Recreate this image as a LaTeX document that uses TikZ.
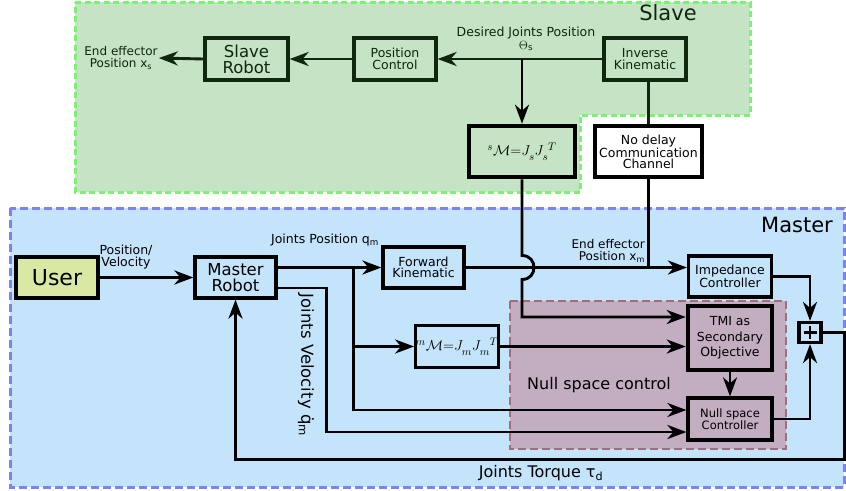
\documentclass[tikz,border=0pt]{standalone}
\usepackage{fontspec}
\setmainfont{DejaVu Sans}
\usetikzlibrary{arrows.meta,calc}
\definecolor{gfill}{HTML}{C5E3C5}
\definecolor{gborder}{HTML}{7CF272}
\definecolor{bfill}{HTML}{C3E4FB}
\definecolor{bborder}{HTML}{8080F5}
\definecolor{nfill}{HTML}{C3ADC1}
\definecolor{nborder}{HTML}{A66A78}
\definecolor{ufill}{HTML}{D8E9A3}
\definecolor{sdark}{HTML}{0F260F}
\newcommand{\myfs}[2]{\fontsize{#1}{#2}\selectfont}
\newcommand{\lsub}[1]{_{\lower2.5pt\hbox{$\scriptstyle #1$}}}
\begin{document}
\begin{tikzpicture}[x=1pt,y=-1pt,
  box/.style={draw, line width=3.2pt, inner sep=0pt, align=center, font=\myfs{12.5}{11.5}},
  sbox/.style={box, draw=sdark, text=sdark},
  thickbox/.style={box, line width=4.6pt},
  arr/.style={line width=2.9pt, -{Stealth[length=19pt,width=14pt,inset=6pt]}},
  ln/.style={line width=2.9pt},
  lbl/.style={inner sep=1pt, align=center, font=\myfs{12.5}{12.5}},
  big/.style={inner sep=0pt, font=\myfs{21}{21}}]
\useasboundingbox (0,0) rectangle (846,490);
% regions
\draw[gborder, fill=gfill, line width=3pt, dash pattern=on 6pt off 3.5pt]
  (75,2) -- (750,2) -- (750,115) -- (580,115) -- (580,192) -- (75,192) -- cycle;
\draw[bborder, fill=bfill, line width=3pt, dash pattern=on 8pt off 4pt] (10,208) rectangle (844,487);
\draw[nborder, fill=nfill, line width=2.8pt, dash pattern=on 8pt off 4pt] (510,301) rectangle (786,449);
% region labels
\node[big, text=sdark] (slavelbl) at (668,13) {Slave};
\node[big] (masterlbl) at (797,225) {Master};
\node[inner sep=0pt, font=\myfs{16}{16}] (nslbl) at (599,385) {Null space control};
% slave nodes
\node[sbox, minimum width=83pt, minimum height=42pt, font=\myfs{16.5}{16}] (srob) at (246.5,59) {Slave\\Robot};
\node[sbox, minimum width=82pt, minimum height=42pt] (pc) at (395,59) {Position\\Control};
\node[sbox, minimum width=82pt, minimum height=42pt] (ik) at (645,59) {Inverse\\Kinematic};
\node[thickbox, minimum width=106pt, minimum height=51pt, font=\myfs{15}{15}] (sm) at (522,151.5)
  {$^{s}\mathcal{M}{=}J\lsub{s}J\lsub{s}{}^{T}$};
\node[thickbox, fill=white, minimum width=107pt, minimum height=51pt, font=\myfs{12.5}{11}] (ndc) at (648.5,151.5)
  {No delay\\Communication\\Channel};
\node[lbl, text=sdark, font=\myfs{12}{12}] (xs) at (121,58) {End effector\\Position x\textsubscript{s}};
\node[lbl, text=sdark] (djp) at (526,39) {Desired Joints Position\\$\Theta$\textsubscript{s}};
% master nodes
\node[box, fill=ufill, minimum width=82pt, minimum height=41pt, font=\myfs{22}{22}] (user) at (57,277.5) {User};
\node[box, minimum width=81pt, minimum height=41pt, font=\myfs{16.5}{16}] (mr) at (235.5,277.5) {Master\\Robot};
\node[box, minimum width=81pt, minimum height=41pt] (fk) at (423.5,267.5) {Forward\\Kinematic};
\node[box, minimum width=83pt, minimum height=41pt] (imp) at (730,276.5) {Impedance\\Controller};
\node[box, minimum width=82pt, minimum height=42pt, font=\myfs{15}{15}] (mmm) at (457,346.5)
  {$^{m}\mathcal{M}{=}J\lsub{m}J\lsub{m}{}^{T}$};
\node[thickbox, minimum width=84pt, minimum height=64pt, font=\myfs{12.5}{15.5}] (tmi) at (730,338) {TMI as\\Secondary\\Objective};
\node[box, minimum width=84pt, minimum height=42pt, font=\myfs{11.5}{10.5}] (nsc) at (730,419) {Null space\\Controller};
\node[draw, line width=3.2pt, minimum width=22pt, minimum height=20pt, inner sep=0pt] (sum) at (810,332.5) {};
\draw[line width=2.4pt] ($(sum.center)+(-6.5,0)$) -- ($(sum.center)+(6.5,0)$)
  ($(sum.center)+(0,-6.5)$) -- ($(sum.center)+(0,6.5)$);
% labels
\node[lbl] (pv) at (126,257) {Position/\\Velocity};
\node[lbl] (jp) at (325,240) {Joints Position q\textsubscript{m}};
\node[lbl, anchor=east, align=right, font=\myfs{12}{12}] (eex) at (646,251) {End effector\\Position x\textsubscript{m}};
\node[inner sep=0pt, rotate=-90, font=\myfs{16.5}{16.5}] (jvl) at (306,365) {Joints Velocity q̇\textsubscript{m}};
\node[inner sep=0pt, font=\myfs{16}{16}] (jt) at (541,473) {Joints Torque τ\textsubscript{d}};
% slave connectors
\draw[arr, draw=sdark, fill=sdark] (srob.west) -- (xs.east);
\draw[arr, draw=sdark, fill=sdark] (pc.west) -- (srob.east);
\draw[arr, draw=sdark, fill=sdark] (ik.west) -- (pc.east);
\draw[arr] (sm.north |- ik.west) -- (sm.north);
\draw[ln, draw=sdark] (ndc.north |- ik.south) -- (ndc.north);
\draw[ln] (ndc.south) -- (ndc.south |- fk.east);
% master connectors
\draw[arr] (user.east) -- (mr.west);
\draw[arr] (fk.west -| mr.east) -- (fk.west);
\coordinate (ja) at ($(fk.west)+(-28,0)$);
\coordinate (nin1) at ($(nsc.west)+(0,-9)$);
\coordinate (nin2) at ($(nsc.west)+(0,13)$);
\draw[arr] (ja) |- (nin1);
\draw[arr] (ja |- mmm.west) -- (mmm.west);
\coordinate (mro2) at ($(mr.east)+(0,10.5)$);
\draw[arr] (mro2) -- ++(49,0) |- (nin2);
\draw[arr] (fk.east) -- (fk.east -| imp.west);
\coordinate (tin1) at ($(tmi.west)+(0,-21)$);
\draw[arr] (sm.south) -- ($(sm.south |- fk.east)+(0,-12)$)
  .. controls +(16,0) and +(16,0) .. ($(sm.south |- fk.east)+(0,12)$) |- (tin1);
\draw[arr] (mmm.east) -- (mmm.east -| tmi.west);
\draw[arr] (tmi.south) -- (nsc.north);
\draw[arr] (imp.east) -| (sum.north);
\draw[arr] (nsc.east) -| (sum.south);
\draw[arr] (sum.east) -- ++(22,0) -- ++(0,127) -| (mr.south);
\end{tikzpicture}
\end{document}
